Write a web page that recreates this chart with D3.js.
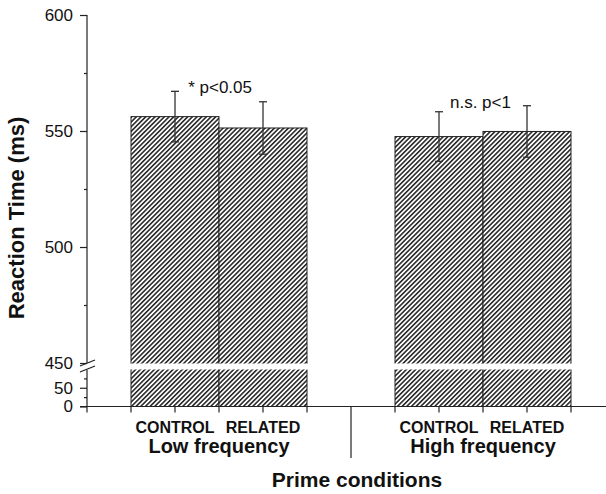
<!DOCTYPE html>
<html>
<head>
<meta charset="utf-8">
<script src="https://cdn.jsdelivr.net/npm/d3@7/dist/d3.min.js"></script>
<style>
  body { margin: 0; background: #fff; }
  text { font-family: Arial, "Liberation Sans", sans-serif; fill: #111; }
</style>
</head>
<body>
<div id="chart"></div>
<script>
// datos
const conditions = ["CONTROL", "RELATED", "CONTROL", "RELATED"];
const groups = ["Low frequency", "High frequency"];
const slots = [0, 1, 3, 4];
const means = [556.2, 551.3, 547.6, 549.8];
const errors = [10.9, 11.3, 10.7, 11.1];
const notes = ["* p<0.05", "n.s. p<1"];
const upperTicks = [450, 500, 550, 600];
const upperMinor = [475, 525, 575];
const lowerTicks = [0, 50];
const lowerMinor = [25, 75];

const width = 606, height = 494;

const svg = d3.select("#chart").append("svg")
    .attr("width", width)
    .attr("height", height);

const x = d3.scaleLinear().domain([0, 5]).range([131, 571]);
const yU = d3.scaleLinear().domain([450, 600]).range([363, 15]);
const yL = d3.scaleLinear().domain([0, 100]).range([406.5, 369]);
const axisX = 87;

// patrón rayado
const pat = svg.append("defs").append("pattern")
    .attr("id", "hatch")
    .attr("patternUnits", "userSpaceOnUse")
    .attr("width", 3.3)
    .attr("height", 10)
    .attr("patternTransform", "rotate(45)");
pat.append("rect").attr("width", 3.3).attr("height", 10).attr("fill", "#fff");
pat.append("line")
    .attr("x1", 0.8).attr("x2", 0.8).attr("y1", 0).attr("y2", 10)
    .attr("stroke", "#2a2a2a").attr("stroke-width", 1.6);

// barras
svg.selectAll("rect.bar")
    .data(means)
    .enter()
    .append("rect")
    .attr("class", "bar")
    .attr("x", (d, i) => x(slots[i]))
    .attr("width", (d, i) => x(slots[i] + 1) - x(slots[i]))
    .attr("y", d => yU(d))
    .attr("height", d => yL(0) - yU(d))
    .attr("fill", "url(#hatch)")
    .attr("stroke", "#222")
    .attr("stroke-width", 1);

// corte del eje en las barras
svg.append("rect")
    .attr("x", x(0) - 2)
    .attr("width", x(5) - x(0) + 4)
    .attr("y", yU(450) + 0.5)
    .attr("height", yL(100) - yU(450))
    .attr("fill", "#fff");

// barras de error
const err = svg.append("g").attr("stroke", "#333").attr("stroke-width", 1.3);
means.forEach((m, i) => {
    const cx = x(slots[i] + 0.5);
    err.append("line").attr("x1", cx).attr("x2", cx)
        .attr("y1", yU(m + errors[i])).attr("y2", yU(m - errors[i]));
    [m + errors[i], m - errors[i]].forEach(v => {
        err.append("line").attr("x1", cx - 4).attr("x2", cx + 4)
            .attr("y1", yU(v)).attr("y2", yU(v));
    });
});

// anotaciones
svg.append("text")
    .attr("x", 252).attr("y", 93)
    .attr("text-anchor", "end")
    .style("font-size", "17px")
    .text(notes[0]);
svg.append("text")
    .attr("x", 450).attr("y", 108)
    .attr("text-anchor", "start")
    .style("font-size", "17px")
    .text(notes[1]);

// eje y superior
const gU = svg.append("g").attr("transform", `translate(${axisX},0)`)
    .call(d3.axisLeft(yU).tickValues(upperTicks).tickSize(7).tickPadding(7));
svg.append("g").attr("transform", `translate(${axisX},0)`)
    .call(d3.axisLeft(yU).tickValues(upperMinor).tickSize(3).tickFormat(""));
const gL = svg.append("g").attr("transform", `translate(${axisX},0)`)
    .call(d3.axisLeft(yL).tickValues(lowerTicks).tickSize(7).tickPadding(7));
svg.append("g").attr("transform", `translate(${axisX},0)`)
    .call(d3.axisLeft(yL).tickValues(lowerMinor).tickSize(3).tickFormat(""));
svg.selectAll(".domain").remove();
svg.selectAll(".tick line").attr("stroke", "#222").attr("stroke-width", 1.2);
svg.selectAll(".tick text").style("font-size", "17px").attr("fill", "#111");

svg.append("line")
    .attr("x1", axisX).attr("x2", axisX)
    .attr("y1", yU(600)).attr("y2", yU(450))
    .attr("stroke", "#222").attr("stroke-width", 1.2);
svg.append("line")
    .attr("x1", axisX).attr("x2", axisX)
    .attr("y1", yL(100) + 1).attr("y2", yL(0) + 6)
    .attr("stroke", "#222").attr("stroke-width", 1.2);

// marcas de corte
[0, 6].forEach(o => {
    svg.append("line")
        .attr("x1", axisX - 7).attr("y1", yU(450) + 3 + o)
        .attr("x2", axisX + 8).attr("y2", yU(450) - 3 + o)
        .attr("stroke", "#222").attr("stroke-width", 1.2);
});

// eje x
svg.append("line")
    .attr("x1", axisX - 7).attr("x2", width)
    .attr("y1", yL(0)).attr("y2", yL(0))
    .attr("stroke", "#222").attr("stroke-width", 1.2);
const xTicks = [0, 0.5, 1, 1.5, 2, 3, 3.5, 4, 4.5, 5];
svg.selectAll("line.xt")
    .data(xTicks)
    .enter()
    .append("line")
    .attr("class", "xt")
    .attr("x1", d => x(d)).attr("x2", d => x(d))
    .attr("y1", yL(0)).attr("y2", yL(0) + 6)
    .attr("stroke", "#222").attr("stroke-width", 1.2);
svg.append("line")
    .attr("x1", x(2.5)).attr("x2", x(2.5))
    .attr("y1", yL(0)).attr("y2", 458)
    .attr("stroke", "#222").attr("stroke-width", 1.2);

// etiquetas de categoría
svg.selectAll("text.cat")
    .data(conditions)
    .enter()
    .append("text")
    .attr("class", "cat")
    .attr("x", (d, i) => x(slots[i] + 0.5))
    .attr("y", 433)
    .attr("text-anchor", "middle")
    .style("font-size", "16px")
    .style("font-weight", "bold")
    .text(d => d);

svg.selectAll("text.grp")
    .data(groups)
    .enter()
    .append("text")
    .attr("class", "grp")
    .attr("x", (d, i) => x(i * 3 + 1))
    .attr("y", 453)
    .attr("text-anchor", "middle")
    .style("font-size", "20px")
    .style("font-weight", "bold")
    .text(d => d);

svg.append("text")
    .attr("x", 357).attr("y", 487)
    .attr("text-anchor", "middle")
    .style("font-size", "21px")
    .style("font-weight", "bold")
    .text("Prime conditions");

svg.append("text")
    .attr("transform", "translate(24,218) rotate(-90)")
    .attr("text-anchor", "middle")
    .style("font-size", "22px")
    .style("font-weight", "bold")
    .text("Reaction Time (ms)");
</script>
</body>
</html>
